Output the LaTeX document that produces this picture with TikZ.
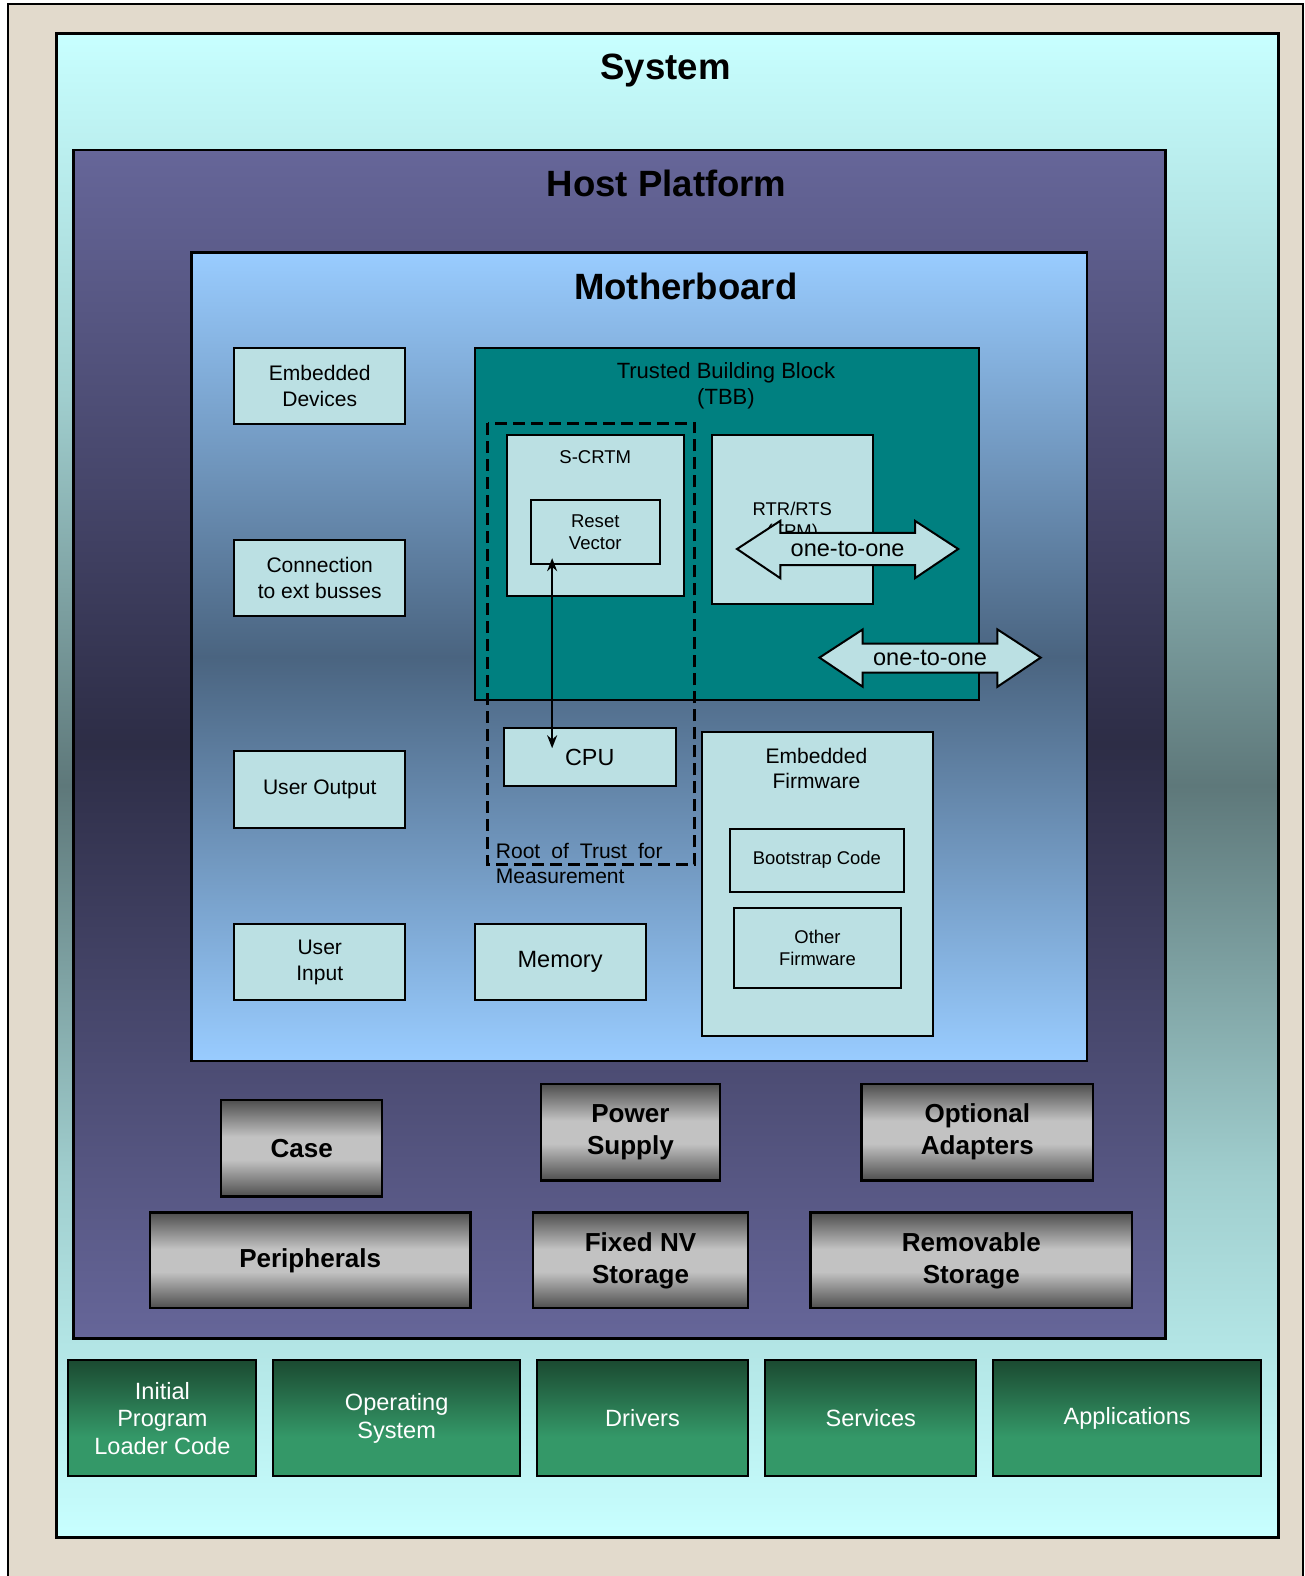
\documentclass[tikz,border=0pt]{standalone}
\usepackage{fontspec}
\setmainfont{Liberation Sans}
\usetikzlibrary{arrows.meta}
\definecolor{beige}{RGB}{226,218,204}
\definecolor{sysL}{RGB}{200,255,255}
\definecolor{sysA}{RGB}{160,206,206}
\definecolor{sysD}{RGB}{94,120,122}
\definecolor{hostL}{RGB}{102,102,153}
\definecolor{hostD}{RGB}{45,45,70}
\definecolor{mbL}{RGB}{153,204,255}
\definecolor{mbD}{RGB}{74,100,128}
\definecolor{lightbox}{RGB}{187,224,227}
\definecolor{tbbcol}{RGB}{0,128,128}
\definecolor{grayD}{RGB}{78,78,78}
\definecolor{grayL}{RGB}{194,194,194}
\definecolor{greenD}{RGB}{27,74,49}
\definecolor{greenL}{RGB}{52,152,104}
\pgfdeclareverticalshading{sysshade}{100bp}{color(0bp)=(sysL); color(25bp)=(sysL); color(37bp)=(sysA); color(50bp)=(sysD); color(63bp)=(sysA); color(75bp)=(sysL); color(100bp)=(sysL)}
\pgfdeclareverticalshading{hostshade}{100bp}{color(0bp)=(hostL); color(25bp)=(hostL); color(50bp)=(hostD); color(75bp)=(hostL); color(100bp)=(hostL)}
\pgfdeclareverticalshading{mbshade}{100bp}{color(0bp)=(mbL); color(25bp)=(mbL); color(50bp)=(mbD); color(75bp)=(mbL); color(100bp)=(mbL)}
\pgfdeclareverticalshading{grayshade}{100bp}{color(0bp)=(grayD); color(25bp)=(grayD); color(44bp)=(grayL); color(56bp)=(grayL); color(75bp)=(grayD); color(100bp)=(grayD)}
\pgfdeclareverticalshading{greenshade}{100bp}{color(0bp)=(greenL); color(25bp)=(greenL); color(42bp)=(greenL); color(75bp)=(greenD); color(100bp)=(greenD)}
\tikzset{
  container/.style={draw=black, line width=2.5bp, anchor=north west, inner sep=0pt},
  lbox/.style={draw=black, line width=2bp, fill=lightbox, inner sep=0pt, align=center, font=\fontsize{21}{26}\selectfont},
  sbox/.style={draw=black, line width=2bp, fill=lightbox, inner sep=0pt, align=center, font=\fontsize{18.4}{22}\selectfont},
  gbox/.style={draw=black, line width=2.5bp, shading=grayshade, inner sep=0pt, align=center, font=\fontsize{26}{32}\selectfont\bfseries},
  grbox/.style={draw=black, line width=2bp, shading=greenshade, text=white, inner sep=0pt, align=center, font=\fontsize{23.5}{27.5}\selectfont},
  ttl/.style={font=\fontsize{36.5}{40}\selectfont\bfseries, inner sep=0pt, anchor=base},
  txt/.style={inner sep=0pt, align=center},
  blockarrow/.style={draw=black, line width=2bp, fill=lightbox, line join=miter},
  dashbox/.style={draw=black, line width=3bp, dash pattern=on 12bp off 6bp},
  link/.style={line width=2bp, {Stealth[length=13bp,width=10bp]}-{Stealth[length=13bp,width=10bp]}},
}
\begin{document}
\begin{tikzpicture}[x=1bp,y=-1bp]
\useasboundingbox (0,0) rectangle (1305,1576);
\fill[white] (0,0) rectangle (1305,1576);
\draw[line width=2.5bp, fill=beige] (8,4) rectangle (1303,1600);

\begin{scope}[scale=1.0055, transform shape]
% containers
\node[container, shading=sysshade, minimum width=1215bp, minimum height=1496bp] (sys) at (55,32) {};
\node[ttl] (systtl) at (662,79) {System};
\node[container, shading=hostshade, minimum width=1086bp, minimum height=1182bp] (host) at (72,148) {};
\node[ttl] (hosttl) at (663,195) {Host Platform};
\node[container, shading=mbshade, minimum width=891bp, minimum height=804bp] (mb) at (189,250) {};
\node[ttl] (mbttl) at (682,298) {Motherboard};

% left column
\node[lbox, minimum width=170bp, minimum height=76bp] (ed) at (318,384) {Embedded\\Devices};
\node[lbox, minimum width=170bp, minimum height=76bp] (conn) at (318,575) {Connection\\to ext busses};
\node[lbox, minimum width=170bp, minimum height=76bp] (uo) at (318,785) {User Output};
\node[lbox, minimum width=170bp, minimum height=76bp] (ui) at (318,957) {User\\Input};

% TBB
\node[draw=black, line width=2bp, fill=tbbcol, minimum width=502bp, minimum height=350bp, inner sep=0pt] (tbb) at (723,521) {};
\node[txt, font=\fontsize{22}{26}\selectfont] (tbbtxt) at (722,384) {Trusted Building Block\\(TBB)};
\node[sbox, minimum width=176bp, minimum height=160bp] (scrtm) at (592,513) {};
\node[txt, font=\fontsize{18.5}{22}\selectfont] (scrtmtxt) at (592,455) {S-CRTM};
\node[sbox, font=\fontsize{18.5}{22}\selectfont, minimum width=128bp, minimum height=64bp] (rv) at (592,529) {Reset\\Vector};
\node[sbox, minimum width=160bp, minimum height=168bp] (rtr) at (788,517) {};
\node[txt, font=\fontsize{18.4}{22}\selectfont] (rtrtxt) at (788,519) {RTR/RTS\\(TPM)};

% dashed root of trust region
\draw[dashbox] (485,421) rectangle (691,860);

% block arrows
\draw[blockarrow] (733,546) -- (776,518) -- (776,530) -- (910,530) -- (910,518) -- (953,546) -- (910,575) -- (910,562) -- (776,562) -- (776,575) -- cycle;
\node[txt, font=\fontsize{23.5}{28}\selectfont] (oto1) at (843,546) {one-to-one};
\draw[blockarrow] (815,654) -- (858,626) -- (858,640) -- (992,640) -- (992,626) -- (1035,654) -- (992,683) -- (992,669) -- (858,669) -- (858,683) -- cycle;
\node[txt, font=\fontsize{23.5}{28}\selectfont] (oto2) at (925,654) {one-to-one};

% CPU, memory, firmware
\node[lbox, font=\fontsize{23.3}{28}\selectfont, minimum width=171bp, minimum height=58bp] (cpu) at (586.5,753) {CPU};
\node[lbox, font=\fontsize{23.5}{28}\selectfont, minimum width=170bp, minimum height=76bp] (mem) at (557,957) {Memory};
\node[lbox, minimum width=230bp, minimum height=302bp] (ef) at (813,879) {};
\node[txt, font=\fontsize{21}{25}\selectfont] (eftxt) at (812,764) {Embedded\\Firmware};
\node[sbox, minimum width=173bp, minimum height=63bp] (boot) at (812.5,855.5) {Bootstrap Code};
\node[sbox, minimum width=166bp, minimum height=80bp] (other) at (813,943) {Other\\Firmware};

\node[inner sep=0pt, anchor=base west, font=\fontsize{21}{25}\selectfont] (rot1) at (493,854) {Root\hspace{11pt}of\hspace{11pt}Trust\hspace{11pt}for};
\node[inner sep=0pt, anchor=base west, font=\fontsize{21}{25}\selectfont] (rot2) at (493,879) {Measurement};

% link between reset vector and CPU
\coordinate (rvpt) at (549,555);
\coordinate (cpupt) at (549,744);
\draw[link] (rvpt) -- (cpupt);

% gray host platform components
\node[gbox, minimum width=160bp, minimum height=96bp] (case) at (300,1142) {Case};
\node[gbox, minimum width=178bp, minimum height=96bp] (ps) at (627,1126) {Power\\Supply};
\node[gbox, minimum width=230bp, minimum height=96bp] (oa) at (972,1126) {Optional\\Adapters};
\node[gbox, minimum width=319bp, minimum height=95bp] (per) at (308.5,1253.5) {Peripherals};
\node[gbox, minimum width=214bp, minimum height=95bp] (fnv) at (637,1253.5) {Fixed NV\\Storage};
\node[gbox, minimum width=320bp, minimum height=95bp] (rs) at (966,1253.5) {Removable\\Storage};

% software
\node[grbox, minimum width=187bp, minimum height=115bp] (ipl) at (161.5,1410.5) {Initial\\Program\\Loader Code};
\node[grbox, minimum width=245bp, minimum height=115bp] (os) at (394.5,1410.5) {Operating\\System};
\node[grbox, minimum width=210bp, minimum height=115bp] (drv) at (639,1410.5) {Drivers};
\node[grbox, minimum width=210bp, minimum height=115bp] (svc) at (866,1410.5) {Services};
\node[grbox, minimum width=266bp, minimum height=115bp] (app) at (1121,1410.5) {Applications};
\end{scope}
\end{tikzpicture}
\end{document}
